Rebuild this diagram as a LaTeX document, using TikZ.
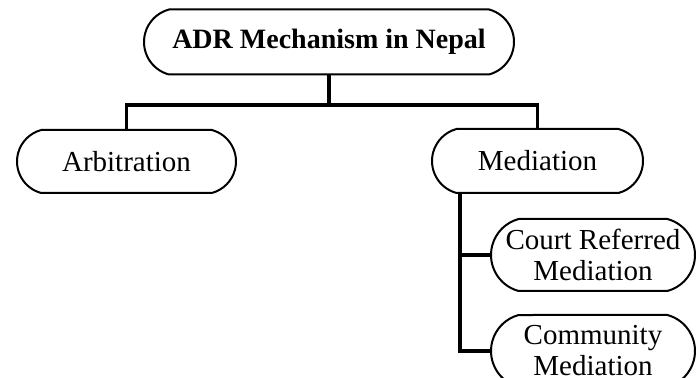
\documentclass[tikz,border=0pt]{standalone}
\usepackage{fontspec}
\setmainfont{Liberation Serif}
\usetikzlibrary{shapes.misc}

\tikzset{
    pill/.style={draw, rounded rectangle, rounded rectangle arc length=150,
                 line width=1pt, align=center,
                 font=\fontsize{14.5}{15.5}\selectfont, inner sep=2pt},
    branch/.style={line width=1.6pt}
}

\begin{document}
\begin{tikzpicture}[x=0.5pt, y=-0.5pt]
                    \useasboundingbox (0,0) rectangle (696,378);
                    \clip (0,0) rectangle (696,378);

                    \coordinate (split) at (329,105);
                    \coordinate (trunk) at (460,0);

                    \node [pill, minimum width=189pt, minimum height=32.5pt] (adr) at (329,42) {\fontsize{14}{15.5}\selectfont\textbf{ADR Mechanism in Nepal}};
                    \node [pill, minimum width=113.5pt, minimum height=31.5pt] (arb) at (126.5,161.5) {Arbitration};
                    \node [pill, minimum width=109.5pt, minimum height=32pt] (med) at (537.5,161) {Mediation};

                    \node [pill, minimum width=106pt, minimum height=36pt] (court) at (593,255) {Court Referred\\Mediation};
                    \node [pill, minimum width=106pt, minimum height=36pt] (comm) at (593,351) {Community\\Mediation};

                    \draw [branch] (adr.south) -- (split);
                    \draw [branch] (arb.north) |- (split) -| (med.north);

                    \draw [branch] (med.south -| trunk) -- (comm.west -| trunk) -- (comm.west);
                    \draw [branch] (court.west -| trunk) -- (court.west);
                \end{tikzpicture}
\end{document}
